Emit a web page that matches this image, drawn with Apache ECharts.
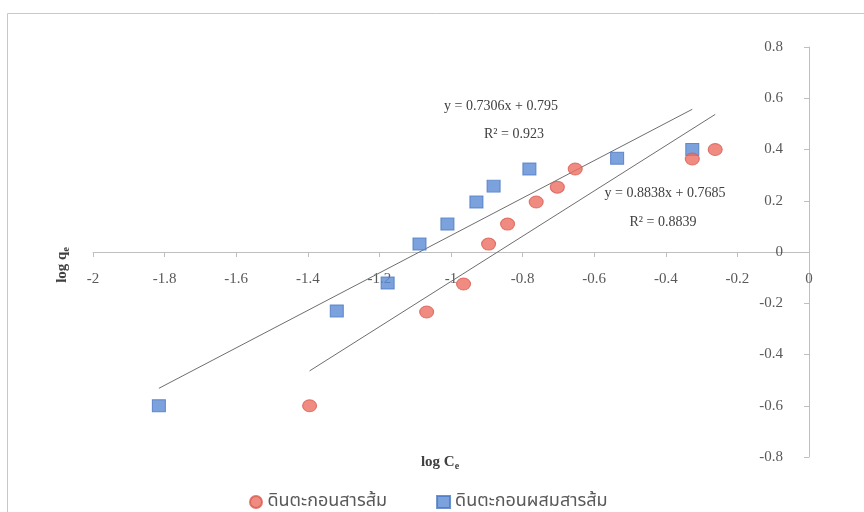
<!DOCTYPE html>
<html>
<head>
<meta charset="utf-8">
<script src="https://cdn.jsdelivr.net/npm/echarts@6/dist/echarts.min.js"></script>
<style>
html,body{margin:0;padding:0;background:#fff;}
#chart{width:864px;height:512px;}
</style>
</head>
<body>
<div id="chart"></div>
<script>
// Data
var seriesNames = ['ดินตะกอนสารส้ม', 'ดินตะกอนผสมสารส้ม'];
var redX = [-1.395, -1.068, -0.965, -0.895, -0.842, -0.762, -0.703, -0.653, -0.326, -0.262];
var redY = [-0.600, -0.234, -0.125, 0.031, 0.109, 0.195, 0.253, 0.324, 0.363, 0.400];
var blueX = [-1.816, -1.319, -1.177, -1.088, -1.010, -0.929, -0.881, -0.781, -0.536, -0.326];
var blueY = [-0.600, -0.230, -0.121, 0.031, 0.109, 0.195, 0.257, 0.324, 0.366, 0.400];
// trendline endpoints
var blueTrendX = [-1.816, -0.326];
var blueTrendY = [-0.532, 0.557];
var redTrendX = [-1.395, -0.262];
var redTrendY = [-0.464, 0.537];
var eqBlue = ['y = 0.7306x + 0.795', 'R² = 0.923'];
var eqRed = ['y = 0.8838x + 0.7685', 'R² = 0.8839'];
var xTicks = {min: -2, max: 0, interval: 0.2};
var yTicks = {min: -0.8, max: 0.8, interval: 0.2};

function zip(a, b) { return a.map(function (v, i) { return [v, b[i]]; }); }

var serif = '"Liberation Serif", "DejaVu Serif", serif';
var thai = '"Noto Sans Thai", "Noto Sans", "DejaVu Sans", sans-serif';

var gridTop = 47, gridBottom = 55, H = 512;
var gridH = H - gridTop - gridBottom;
// pixel offset that moves the x axis from the grid bottom up to y = 0
var xOffset = -gridH * (0 - yTicks.min) / (yTicks.max - yTicks.min);

var chart = echarts.init(document.getElementById('chart'), null, {renderer: 'canvas'});
var option = {
  backgroundColor: '#ffffff',
  animation: false,
  grid: {left: 93, right: 55, top: gridTop, bottom: gridBottom},
  xAxis: {
    type: 'value', min: xTicks.min, max: xTicks.max, interval: xTicks.interval,
    position: 'bottom', offset: xOffset,
    splitLine: {show: false},
    axisLine: {onZero: false, lineStyle: {color: '#bfbfbf', width: 1}},
    axisTick: {show: true, length: 5, lineStyle: {color: '#bfbfbf'}},
    axisLabel: {margin: 20, color: '#595959', fontFamily: serif, fontSize: 15,
      formatter: function (v) { return String(Math.round(v * 10) / 10); }}
  },
  yAxis: {
    type: 'value', min: yTicks.min, max: yTicks.max, interval: yTicks.interval,
    position: 'right',
    splitLine: {show: false},
    axisLine: {onZero: false, lineStyle: {color: '#bfbfbf', width: 1}},
    axisTick: {show: true, inside: true, length: 5, lineStyle: {color: '#bfbfbf'}},
    axisLabel: {inside: true, margin: 26, color: '#595959', fontFamily: serif, fontSize: 15,
      formatter: function (v) { return String(Math.round(v * 10) / 10); }}
  },
  legend: {
    left: 244, top: 488, itemGap: 49, itemWidth: 13, itemHeight: 12,
    textStyle: {fontFamily: thai, fontSize: 18, color: '#595959'},
    data: [{name: seriesNames[0], icon: 'circle'}, {name: seriesNames[1], icon: 'rect'}]
  },
  series: [
    {
      name: 'blueTrend', type: 'line', data: zip(blueTrendX, blueTrendY),
      showSymbol: false, symbol: 'none', silent: true,
      lineStyle: {color: '#6e6e6e', width: 1}, z: 2
    },
    {
      name: 'redTrend', type: 'line', data: zip(redTrendX, redTrendY),
      showSymbol: false, symbol: 'none', silent: true,
      lineStyle: {color: '#6e6e6e', width: 1}, z: 2
    },
    {
      name: seriesNames[1], type: 'scatter', data: zip(blueX, blueY),
      symbol: 'rect', symbolSize: [13, 12],
      itemStyle: {color: '#5b8bd6', borderColor: '#4a78c2', borderWidth: 1}, z: 3
    },
    {
      name: seriesNames[0], type: 'scatter', data: zip(redX, redY),
      symbol: 'circle', symbolSize: [14, 12],
      itemStyle: {color: '#eb6e62', borderColor: '#d95a50', borderWidth: 1}, z: 4
    }
  ],
  graphic: [
    {type: 'rect', left: 5, top: 11, shape: {width: 900, height: 600},
      style: {fill: 'none', stroke: '#c8c8c8', lineWidth: 1}, silent: true, z: -10},
    {type: 'text', x: 501, y: 106, style: {text: eqBlue[0], font: '14px ' + serif, fill: '#404040', align: 'center', verticalAlign: 'middle'}},
    {type: 'text', x: 514, y: 134, style: {text: eqBlue[1], font: '14px ' + serif, fill: '#404040', align: 'center', verticalAlign: 'middle'}},
    {type: 'text', x: 665, y: 193, style: {text: eqRed[0], font: '14px ' + serif, fill: '#404040', align: 'center', verticalAlign: 'middle'}},
    {type: 'text', x: 663, y: 222, style: {text: eqRed[1], font: '14px ' + serif, fill: '#404040', align: 'center', verticalAlign: 'middle'}},
    {type: 'text', x: 440, y: 462, style: {
      text: '{a|log C}{s|e}', align: 'center', verticalAlign: 'middle',
      rich: {a: {font: 'bold 15px ' + serif, fill: '#404040'},
             s: {font: 'bold 10px ' + serif, fill: '#404040', padding: [8, 0, 0, 0]}}}},
    {type: 'text', x: 62, y: 265, rotation: Math.PI / 2, style: {
      text: '{a|log q}{s|e}', align: 'center', verticalAlign: 'middle',
      rich: {a: {font: 'bold 15px ' + serif, fill: '#404040'},
             s: {font: 'bold 10px ' + serif, fill: '#404040', padding: [8, 0, 0, 0]}}}}
  ]
};
chart.setOption(option);
</script>
</body>
</html>
